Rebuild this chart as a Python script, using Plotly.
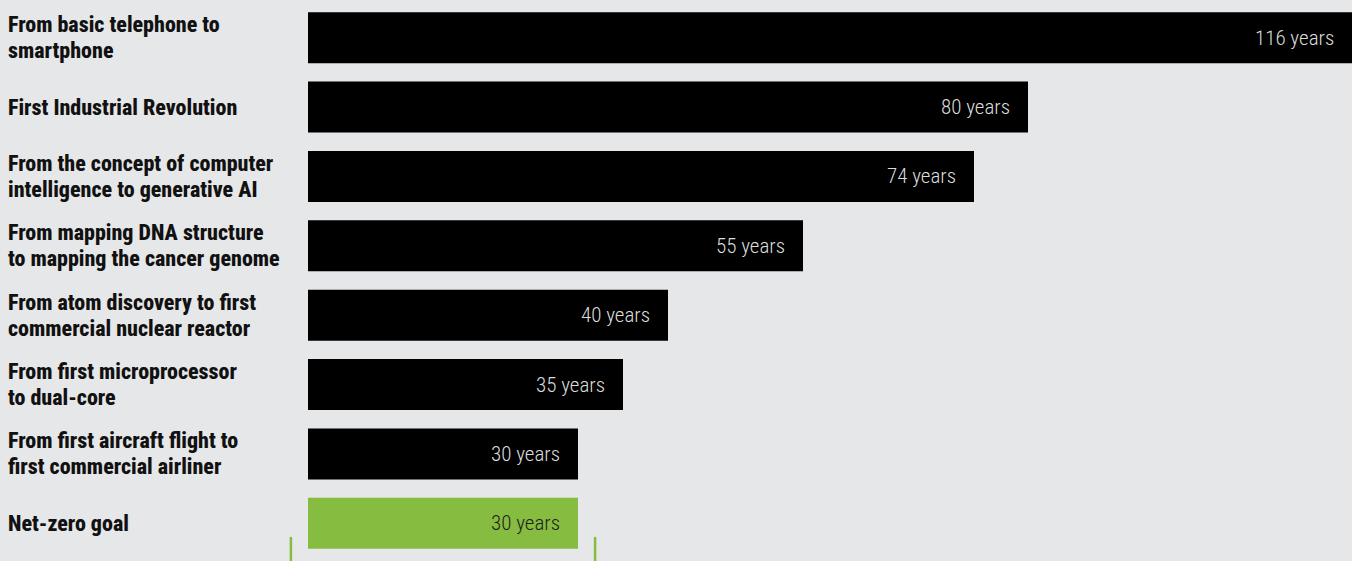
import plotly.graph_objects as go

categories = [
    "From basic telephone to<br>smartphone",
    "First Industrial Revolution",
    "From the concept of computer<br>intelligence to generative AI",
    "From mapping DNA structure<br>to mapping the cancer genome",
    "From atom discovery to first<br>commercial nuclear reactor",
    "From first microprocessor<br>to dual-core",
    "From first aircraft flight to<br>first commercial airliner",
    "Net-zero goal",
]
years = [116, 80, 74, 55, 40, 35, 30, 30]
bar_colors = ["#000000"] * 7 + ["#86bd40"]
text_colors = ["#dcdcdc"] * 7 + ["#1e1e1e"]

BG = "#e6e7e8"
GREEN = "#86bd40"
W, H = 1352, 561
ML, MR, MT, MB = 308, 0, 3, 3
plot_w = W - ML - MR
xmax = max(years)
LABEL_STYLE = "font-stretch:83%"
VALUE_STYLE = "font-stretch:condensed"
LINE_GAP = 26

fig = go.Figure()
fig.add_trace(go.Bar(
    x=years, y=categories, orientation="h",
    marker=dict(color=bar_colors, line=dict(width=0)),
    hoverinfo="skip",
))

annotations = []
label_font = dict(family="Roboto, sans-serif", size=22, color="#111111", weight=800)
for cat in categories:
    lines = cat.split("<br>")
    n = len(lines)
    for k, line in enumerate(lines):
        shift = ((n - 1) / 2 - k) * LINE_GAP
        annotations.append(dict(
            x=-(ML - 7) / plot_w, xref="paper", y=cat, yref="y", yshift=shift,
            text=f"<span style='{LABEL_STYLE}'>{line}</span>", showarrow=False,
            xanchor="left", yanchor="middle", align="left", borderpad=0,
            font=label_font,
        ))
for cat, v, tc in zip(categories, years, text_colors):
    annotations.append(dict(
        x=v, xref="x", y=cat, yref="y", text=f"<span style='{VALUE_STYLE}'>{v} years</span>",
        showarrow=False, xanchor="right", yanchor="middle", xshift=-16,
        font=dict(family="Roboto, sans-serif", size=21, color=tc, weight=300),
    ))

# bracket lines below the net-zero bar
net_zero = years[-1]
pad_years = 1.9
shapes = []
for xv in (-pad_years, net_zero + pad_years):
    shapes.append(dict(
        type="line", xref="paper", yref="paper",
        x0=xv / xmax, x1=xv / xmax, y0=-0.03, y1=0.038,
        line=dict(color=GREEN, width=2.5),
    ))

fig.update_layout(
    width=W, height=H,
    margin=dict(l=ML, r=MR, t=MT, b=MB),
    paper_bgcolor=BG, plot_bgcolor=BG,
    bargap=0.265,
    showlegend=False,
    xaxis=dict(range=[0, xmax], visible=False, fixedrange=True),
    yaxis=dict(autorange="reversed", showticklabels=False, showgrid=False,
               zeroline=False, fixedrange=True),
    annotations=annotations,
    shapes=shapes,
)

fig.write_html("out.html", config={"displayModeBar": False},
               post_script="document.body.style.margin='0';document.body.style.overflow='hidden';")
